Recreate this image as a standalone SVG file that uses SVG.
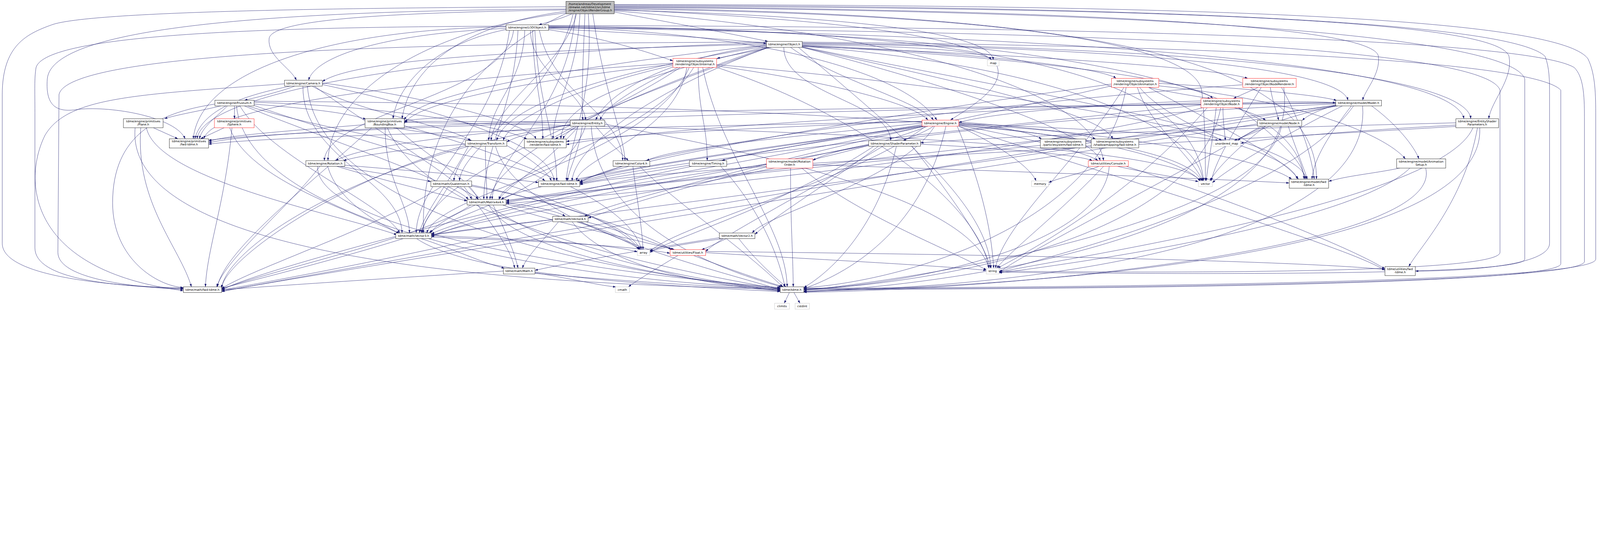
<svg xmlns="http://www.w3.org/2000/svg" width="7104" height="1379" viewBox="0 0 7104 1379">
<style>
svg{max-width:100vw;height:auto}
.e{fill:none;stroke:#191970;stroke-width:1.3;marker-end:url(#a)}
.n rect{fill:#fff;stroke:#000;stroke-width:1.3}
.r rect{stroke:#ff0000}
.s rect{stroke:#bfbfbf}
.root rect{fill:#bfbfbf}
text{font-family:"DejaVu Sans","Liberation Sans",sans-serif;font-size:13px;fill:#000;text-anchor:middle}
.root text{text-anchor:start}
</style>
<defs>
<marker id="a" markerUnits="userSpaceOnUse" markerWidth="13" markerHeight="10" refX="13" refY="5" orient="auto" viewBox="0 0 13 10"><path d="M0,0.5 L13,5 L0,9.5 z" fill="#191970"/></marker>
</defs>
<rect width="7104" height="1379" fill="#fff"/>
<g id="edges">
<path class="e" d="M2540,61 C2500,80 2430,100 2392,110"/>
<path class="e" d="M2727,53 C2950,95 3250,150 3410,184"/>
<path class="e" d="M2513,44 C1800,55 1210,80 1195,170 C1185,250 1290,300 1316,356"/>
<path class="e" d="M2597,61 C2590,250 2580,450 2588,533"/>
<path class="e" d="M2560,61 C2500,300 2200,450 2180,624"/>
<path class="e" d="M2513,50 C2050,110 1820,300 1785,527"/>
<path class="e" d="M2575,61 C2560,350 2460,450 2455,617"/>
<path class="e" d="M2612,61 C2640,450 2520,650 2515,803"/>
<path class="e" d="M2632,61 C2680,400 2770,600 2775,713"/>
<path class="e" d="M2513,57 C1900,130 1470,400 1456,713"/>
<path class="e" d="M2545,61 C2450,450 2050,650 2040,803"/>
<path class="e" d="M2555,61 C2520,500 2190,700 2185,885"/>
<path class="e" d="M2513,60 C2000,300 1870,700 1880,1034"/>
<path class="e" d="M2727,30 C4500,40 6100,100 6120,250 C6130,330 6060,400 6050,445"/>
<path class="e" d="M2727,27 C5000,35 6650,80 6700,250 C6720,350 6620,450 6610,527"/>
<path class="e" d="M2727,36 C4800,60 5850,250 5845,795"/>
<path class="e" d="M2727,23 C5000,28 6700,90 6860,250 C6880,300 6880,360 6880,420 L6880,1080 C6880,1180 6500,1203 6284,1203"/>
<path class="e" d="M2727,20 C5000,22 6900,60 7050,260 C7080,320 7085,400 7085,500 L7085,1150 C7085,1250 5000,1275 3569,1279"/>
<path class="e" d="M2513,30 C1500,35 400,50 230,110 C120,150 10,200 10,420 L10,1080 C10,1230 500,1270 814,1278"/>
<path class="e" d="M2513,40 C1200,48 230,120 210,350 C200,480 260,500 350,485 C500,470 780,520 822,616"/>
<path class="e" d="M2727,45 C3800,70 4400,150 4410,266"/>
<path class="e" d="M2727,33 C5000,45 6700,150 6770,350 L6770,1150 C6770,1230 5000,1215 4436,1208"/>
<path class="e" d="M2727,40 C4500,60 5300,200 5335,400 C5350,500 5352,700 5352,803"/>
<path class="e" d="M2727,48 C4000,150 4850,400 4900,713"/>
<path class="e" d="M2727,42 C3600,80 4300,150 4420,280 C4480,380 4300,480 4220,533"/>
<path class="e" d="M2436,127 C2800,145 3200,170 3403,193"/>
<path class="e" d="M2436,132 C2700,170 2900,240 2988,270"/>
<path class="e" d="M2247,126 C1700,150 1400,250 1370,356"/>
<path class="e" d="M2355,135 C2360,330 2590,400 2600,533"/>
<path class="e" d="M2436,120 C3300,140 4000,300 4160,533"/>
<path class="e" d="M2330,135 C2320,380 2175,450 2170,624"/>
<path class="e" d="M2247,131 C1900,200 1760,400 1745,527"/>
<path class="e" d="M2365,135 C2370,380 2410,450 2410,617"/>
<path class="e" d="M2375,135 C2390,470 2470,600 2472,803"/>
<path class="e" d="M2395,135 C2450,420 2760,500 2765,713"/>
<path class="e" d="M2280,135 C2250,420 1450,500 1440,713"/>
<path class="e" d="M2300,135 C2280,500 2150,650 2148,885"/>
<path class="e" d="M2262,135 C2200,580 1850,800 1848,1034"/>
<path class="e" d="M2247,119 C1500,130 890,300 858,616"/>
<path class="e" d="M2247,116 C1200,120 200,150 160,300 C152,350 155,400 155,500 L155,1100 C155,1240 500,1270 814,1281"/>
<path class="e" d="M2436,113 C5000,118 6800,180 6990,300 C7030,340 7035,420 7035,520 L7035,1160 C7035,1255 5000,1280 3569,1282"/>
<path class="e" d="M2436,124 C5000,135 6600,220 6660,400 L6660,1120 C6660,1220 5000,1210 4436,1203"/>
<path class="e" d="M2436,116 C4500,130 5300,350 5344,803"/>
<path class="e" d="M2436,118 C4800,140 5760,400 5790,795"/>
<path class="e" d="M2436,122 C5000,160 6450,300 6500,527"/>
<path class="e" d="M3425,210 C3330,230 3250,245 3183,259"/>
<path class="e" d="M3562,198 C4000,205 4380,220 4400,266"/>
<path class="e" d="M3510,210 C3700,350 4080,450 4145,533"/>
<path class="e" d="M3403,196 C2500,220 1600,250 1431,362"/>
<path class="e" d="M3403,201 C3000,250 2700,400 2645,533"/>
<path class="e" d="M3403,205 C2800,300 2250,450 2205,624"/>
<path class="e" d="M3403,199 C2500,300 1850,420 1795,532"/>
<path class="e" d="M3562,201 C4300,230 4900,300 4955,348"/>
<path class="e" d="M3562,203 C4500,250 5300,350 5385,437"/>
<path class="e" d="M3562,206 C4500,240 5400,300 5540,348"/>
<path class="e" d="M3562,194 C5000,210 5950,300 5985,445"/>
<path class="e" d="M3562,191 C5500,210 6520,350 6530,527"/>
<path class="e" d="M3403,208 C2800,350 2500,450 2490,617"/>
<path class="e" d="M3562,210 C4200,350 4900,500 4940,617"/>
<path class="e" d="M3410,210 C2900,400 2550,650 2540,803"/>
<path class="e" d="M3562,208 C4500,400 5770,600 5800,795"/>
<path class="e" d="M3403,190 C2000,230 900,400 875,616"/>
<path class="e" d="M3403,187 C2000,190 300,220 262,420 L257,1120 C257,1240 600,1275 814,1284"/>
<path class="e" d="M3405,210 C2700,450 2200,700 2175,885"/>
<path class="e" d="M3415,210 C2600,500 1900,800 1875,1034"/>
<path class="e" d="M3562,210 C4300,400 4850,600 4885,713"/>
<path class="e" d="M3545,210 C4000,600 4380,900 4400,1190"/>
<path class="e" d="M3562,205 C4800,300 5330,600 5340,803"/>
<path class="e" d="M3562,187 C5200,200 6800,260 6930,400 L6930,1170 C6930,1260 5000,1283 3569,1285"/>
<path class="e" d="M3480,210 C3480,420 3950,450 3955,624"/>
<path class="e" d="M3010,299 C2800,400 2680,480 2665,533"/>
<path class="e" d="M2988,290 C2500,400 2250,550 2235,624"/>
<path class="e" d="M2988,285 C2400,350 1850,450 1795,548"/>
<path class="e" d="M3020,299 C2800,450 2520,550 2500,617"/>
<path class="e" d="M3050,299 C3000,600 2570,700 2560,803"/>
<path class="e" d="M3182,287 C4500,400 5700,600 5760,795"/>
<path class="e" d="M2988,280 C2000,350 950,450 905,616"/>
<path class="e" d="M3100,299 C3100,500 3140,550 3140,713"/>
<path class="e" d="M3060,299 C2900,700 1950,850 1895,1034"/>
<path class="e" d="M3080,299 C2900,600 2250,750 2215,885"/>
<path class="e" d="M3182,299 C3800,500 4350,900 4390,1190"/>
<path class="e" d="M3120,299 C3200,700 3490,1000 3495,1273"/>
<path class="e" d="M3182,293 C3600,350 4050,450 4120,533"/>
<path class="e" d="M1309,382 C1250,405 1150,430 1085,445"/>
<path class="e" d="M1385,382 C1600,500 2000,560 2090,624"/>
<path class="e" d="M1395,382 C1700,600 2050,800 2095,885"/>
<path class="e" d="M1345,382 C1340,700 1780,800 1785,1034"/>
<path class="e" d="M1263,372 C600,420 300,430 200,600 C100,800 120,1200 814,1290"/>
<path class="e" d="M1290,382 C1100,420 900,480 865,616"/>
<path class="e" d="M1431,375 C2000,500 2450,650 2460,803"/>
<path class="e" d="M1431,368 C1900,430 2350,550 2380,617"/>
<path class="e" d="M1365,382 C1400,900 2500,1200 3464,1280"/>
<path class="e" d="M980,470 C900,490 780,510 730,527"/>
<path class="e" d="M1041,470 L1041,527"/>
<path class="e" d="M1128,462 C1350,480 1550,500 1625,530"/>
<path class="e" d="M1010,470 C960,520 900,560 885,616"/>
<path class="e" d="M1128,454 C1700,470 2200,550 2340,617"/>
<path class="e" d="M1085,470 C1400,600 2000,800 2080,885"/>
<path class="e" d="M1065,470 C1200,700 1700,900 1775,1034"/>
<path class="e" d="M1128,468 C1800,700 2700,900 2838,1108"/>
<path class="e" d="M1128,449 C2500,460 5200,500 5335,803"/>
<path class="e" d="M1050,470 C1100,1000 2500,1250 3464,1278"/>
<path class="e" d="M954,462 C700,500 500,600 500,900 C500,1150 700,1270 814,1276"/>
<path class="e" d="M1100,470 C1500,600 2300,700 2420,803"/>
<path class="e" d="M681,567 L790,616"/>
<path class="e" d="M650,567 C700,800 1500,950 1762,1042"/>
<path class="e" d="M625,567 C600,900 800,1100 850,1273"/>
<path class="e" d="M600,567 C560,1000 1500,1250 3464,1282"/>
<path class="e" d="M995,567 L890,616"/>
<path class="e" d="M1020,567 C1100,800 1600,950 1772,1036"/>
<path class="e" d="M1030,567 C1000,900 920,1100 912,1273"/>
<path class="e" d="M1621,553 C1300,580 1000,600 926,628"/>
<path class="e" d="M1745,567 C1900,590 2030,610 2095,624"/>
<path class="e" d="M1710,567 C1710,800 1815,900 1818,1034"/>
<path class="e" d="M1760,567 C1900,700 2100,800 2120,885"/>
<path class="e" d="M1650,567 C1400,800 1000,1100 965,1273"/>
<path class="e" d="M1795,558 C2300,700 2800,900 2848,1108"/>
<path class="e" d="M1720,567 C1900,1000 3000,1200 3464,1284"/>
<path class="e" d="M1795,543 C3000,560 5200,620 5330,803"/>
<path class="e" d="M2532,552 C2400,580 2300,600 2250,630"/>
<path class="e" d="M2568,560 L2465,617"/>
<path class="e" d="M2585,560 C2570,680 2525,750 2520,803"/>
<path class="e" d="M2645,560 C2700,630 2760,680 2790,713"/>
<path class="e" d="M2532,545 C2200,540 1900,537 1795,540"/>
<path class="e" d="M2532,556 C2000,600 1600,650 1490,713"/>
<path class="e" d="M2570,560 C2400,750 2250,830 2215,885"/>
<path class="e" d="M2600,560 C2500,850 2000,950 1905,1034"/>
<path class="e" d="M2532,540 C1800,570 1200,590 926,622"/>
<path class="e" d="M2532,553 C1600,700 1000,1100 984,1280"/>
<path class="e" d="M2685,551 C3500,700 4300,900 4392,1190"/>
<path class="e" d="M2625,560 C2650,1000 3200,1200 3470,1273"/>
<path class="e" d="M4145,560 C4100,590 4040,610 4010,624"/>
<path class="e" d="M4257,546 C4450,560 4580,590 4625,617"/>
<path class="e" d="M4257,551 C4600,570 4800,590 4865,617"/>
<path class="e" d="M4094,546 C3600,600 3000,650 2870,713"/>
<path class="e" d="M4100,560 C3700,620 3300,680 3205,713"/>
<path class="e" d="M4257,556 C4600,620 4830,680 4875,713"/>
<path class="e" d="M4094,553 C3500,650 2700,750 2574,810"/>
<path class="e" d="M4257,541 C5000,600 5600,700 5735,795"/>
<path class="e" d="M4094,540 C3000,560 1200,600 926,640"/>
<path class="e" d="M4094,538 C3500,560 2700,600 2514,628"/>
<path class="e" d="M4094,557 C3000,700 1100,1200 984,1289"/>
<path class="e" d="M4098,560 C3000,700 2300,830 2225,885"/>
<path class="e" d="M4150,560 C4000,800 3400,950 3340,1034"/>
<path class="e" d="M4120,560 C3500,800 2100,950 1915,1048"/>
<path class="e" d="M4105,560 C3500,700 2700,900 2595,960"/>
<path class="e" d="M4110,560 C3800,800 3000,1000 2885,1117"/>
<path class="e" d="M4257,560 C4450,650 4580,750 4600,803"/>
<path class="e" d="M4250,560 C4350,800 4400,1000 4412,1190"/>
<path class="e" d="M4257,553 C4800,600 5250,700 5330,805"/>
<path class="e" d="M4257,548 C4800,570 5300,600 5410,624"/>
<path class="e" d="M4200,560 C4100,1000 3800,1200 3569,1281"/>
<path class="e" d="M4257,560 C5000,800 6000,1100 6149,1200"/>
<path class="e" d="M5720,560 C5750,650 5790,750 5805,795"/>
<path class="e" d="M5583,556 C4000,700 2500,850 2247,899"/>
<path class="e" d="M5600,560 C5000,900 4500,1150 4436,1210"/>
<path class="e" d="M5620,560 C5500,650 5400,750 5372,803"/>
<path class="e" d="M5637,560 L5479,624"/>
<path class="e" d="M5690,560 C5600,1000 4000,1250 3569,1288"/>
<path class="e" d="M5583,550 C4000,800 1500,1200 984,1292"/>
<path class="e" d="M5931,466 C5850,490 5800,515 5782,535"/>
<path class="e" d="M6090,470 C6200,550 6280,650 6300,705"/>
<path class="e" d="M6000,470 C5900,600 5835,700 5825,795"/>
<path class="e" d="M5931,469 C5700,520 5550,580 5495,624"/>
<path class="e" d="M5931,461 C5000,500 3800,600 3609,712"/>
<path class="e" d="M5931,455 C4000,480 2000,500 1795,536"/>
<path class="e" d="M5931,470 C4000,700 2500,850 2247,894"/>
<path class="e" d="M5940,470 C4000,800 2200,1000 1915,1044"/>
<path class="e" d="M5931,458 C4000,470 1200,560 926,634"/>
<path class="e" d="M6010,470 C5700,900 4600,1150 4436,1205"/>
<path class="e" d="M5960,470 C5700,600 5450,750 5383,811"/>
<path class="e" d="M6050,470 C6100,1100 4500,1280 3569,1291"/>
<path class="e" d="M5931,466 C4000,750 1200,1250 984,1294"/>
<path class="e" d="M5480,478 C5560,500 5600,520 5620,534"/>
<path class="e" d="M5517,456 C5700,450 5850,450 5931,456"/>
<path class="e" d="M5430,478 C5430,550 5440,600 5440,624"/>
<path class="e" d="M5400,478 C5380,650 5360,750 5356,803"/>
<path class="e" d="M5500,478 C5650,600 5780,700 5795,795"/>
<path class="e" d="M5332,466 C4000,600 2700,750 2574,816"/>
<path class="e" d="M5332,456 C4000,500 2800,580 2514,642"/>
<path class="e" d="M5332,448 C4900,460 4400,500 4257,544"/>
<path class="e" d="M5340,478 C4500,700 2700,870 2247,903"/>
<path class="e" d="M5360,478 C5000,900 4500,1150 4430,1190"/>
<path class="e" d="M5420,478 C5300,1100 4000,1270 3569,1284"/>
<path class="e" d="M5586,388 L5476,437"/>
<path class="e" d="M5640,388 C5650,450 5670,500 5677,534"/>
<path class="e" d="M5600,388 C5500,550 5400,700 5378,803"/>
<path class="e" d="M5518,376 C4500,450 2800,650 2574,812"/>
<path class="e" d="M5690,388 C5780,550 5825,700 5835,795"/>
<path class="e" d="M5700,388 C5800,1100 4000,1280 3569,1295"/>
<path class="e" d="M5145,370 C5500,390 5850,420 5935,446"/>
<path class="e" d="M5100,388 C5200,410 5320,430 5375,437"/>
<path class="e" d="M5060,388 C5150,500 5350,580 5425,624"/>
<path class="e" d="M5050,388 C5100,550 5300,700 5340,805"/>
<path class="e" d="M5100,388 C5400,550 5700,700 5765,795"/>
<path class="e" d="M5145,381 C5800,450 6150,600 6240,705"/>
<path class="e" d="M4935,381 C4000,600 2600,850 2247,889"/>
<path class="e" d="M4990,388 C4800,700 4450,1000 4420,1190"/>
<path class="e" d="M5000,388 C4900,1000 4000,1250 3569,1277"/>
<path class="e" d="M4935,373 C4000,500 2800,700 2574,806"/>
<path class="e" d="M6464,545 C5500,570 4500,600 4087,634"/>
<path class="e" d="M6464,555 C6000,580 5650,610 5508,636"/>
<path class="e" d="M6540,567 C6400,900 4700,1150 4436,1208"/>
<path class="e" d="M6570,567 C6600,1150 4500,1270 3569,1293"/>
<path class="e" d="M6560,567 C6500,900 6300,1100 6255,1183"/>
<path class="e" d="M6464,561 C5000,650 2800,750 2574,820"/>
<path class="e" d="M6215,746 C6100,770 5980,780 5899,805"/>
<path class="e" d="M6260,746 C6000,1000 4700,1180 4436,1211"/>
<path class="e" d="M6330,746 C6420,1100 4500,1285 3569,1297"/>
<path class="e" d="M4880,738 C4800,770 4700,790 4656,810"/>
<path class="e" d="M4961,738 C5100,770 5250,790 5321,806"/>
<path class="e" d="M4900,738 C4700,950 4500,1100 4425,1190"/>
<path class="e" d="M4925,738 C4900,1100 4000,1270 3569,1283"/>
<path class="e" d="M5000,738 C5500,900 6000,1100 6149,1193"/>
<path class="e" d="M3560,746 C3800,950 4200,1100 4380,1198"/>
<path class="e" d="M3510,746 C3510,1000 3520,1100 3522,1273"/>
<path class="e" d="M3403,731 C2800,800 2100,950 1915,1038"/>
<path class="e" d="M3609,731 C4500,760 5300,790 5724,812"/>
<path class="e" d="M3061,733 C2900,760 2700,790 2574,814"/>
<path class="e" d="M3200,738 C3350,900 3450,1100 3485,1273"/>
<path class="e" d="M2760,738 C2680,770 2600,790 2560,803"/>
<path class="e" d="M2810,738 C2830,900 2850,1000 2855,1108"/>
<path class="e" d="M2840,738 C3000,900 3300,1100 3475,1273"/>
<path class="e" d="M3900,649 C3700,800 3450,950 3352,1040"/>
<path class="e" d="M3857,646 C3000,800 2100,950 1915,1053"/>
<path class="e" d="M3857,641 C3300,750 2800,900 2611,968"/>
<path class="e" d="M3920,649 C3500,900 3200,1050 3133,1116"/>
<path class="e" d="M4050,649 C4250,900 4380,1100 4398,1190"/>
<path class="e" d="M3880,649 C3500,900 3000,1050 2885,1121"/>
<path class="e" d="M3980,649 C3900,1000 3700,1200 3569,1276"/>
<path class="e" d="M4087,640 C4500,660 4800,690 4850,713"/>
<path class="e" d="M1508,738 C1700,775 1850,790 1913,806"/>
<path class="e" d="M1495,738 C1700,800 1950,860 2074,892"/>
<path class="e" d="M1455,738 C1500,900 1700,1000 1775,1036"/>
<path class="e" d="M1531,733 C1900,765 2250,790 2391,810"/>
<path class="e" d="M1420,738 C1300,900 1000,1150 962,1273"/>
<path class="e" d="M1410,738 C1400,1000 2500,1200 3464,1276"/>
<path class="e" d="M2066,640 C1800,660 1600,690 1525,713"/>
<path class="e" d="M2100,649 C2050,700 2020,760 2015,803"/>
<path class="e" d="M2155,649 C2155,750 2162,820 2162,885"/>
<path class="e" d="M2080,649 C2000,800 1880,950 1862,1034"/>
<path class="e" d="M2250,646 C2350,700 2430,760 2448,803"/>
<path class="e" d="M2066,646 C1500,800 1000,1150 984,1277"/>
<path class="e" d="M2200,649 C2300,1000 3200,1200 3464,1286"/>
<path class="e" d="M2028,828 C2070,850 2110,870 2125,885"/>
<path class="e" d="M1990,828 C1950,900 1880,980 1870,1034"/>
<path class="e" d="M2060,828 C2150,950 2270,1100 2285,1190"/>
<path class="e" d="M2094,821 C2500,900 2900,1050 2980,1108"/>
<path class="e" d="M1960,828 C1700,1000 1100,1200 984,1281"/>
<path class="e" d="M2094,826 C2500,900 2800,1000 2842,1108"/>
<path class="e" d="M2080,828 C2300,1100 3100,1250 3464,1288"/>
<path class="e" d="M2110,910 C2000,960 1930,1000 1912,1034"/>
<path class="e" d="M2247,900 C2400,920 2480,940 2510,960"/>
<path class="e" d="M2190,910 C2230,1000 2280,1100 2300,1190"/>
<path class="e" d="M2090,910 C1900,1050 1200,1200 984,1283"/>
<path class="e" d="M2247,906 C2500,950 2800,1050 2836,1108"/>
<path class="e" d="M2232,910 C2500,1000 2900,1080 2990,1108"/>
<path class="e" d="M2170,910 C2300,1150 3200,1260 3464,1290"/>
<path class="e" d="M2454,975 C2200,1000 2000,1030 1915,1041"/>
<path class="e" d="M2480,984 C2400,1080 2330,1150 2320,1190"/>
<path class="e" d="M2560,984 C2700,1030 2800,1080 2845,1108"/>
<path class="e" d="M2600,984 C2750,1020 2900,1080 2995,1108"/>
<path class="e" d="M2454,980 C2000,1100 1200,1250 984,1287"/>
<path class="e" d="M2540,984 C2700,1200 3200,1270 3464,1292"/>
<path class="e" d="M1870,1059 C2000,1100 2150,1170 2240,1190"/>
<path class="e" d="M1790,1059 C1500,1150 1100,1250 984,1279"/>
<path class="e" d="M1915,1046 C2300,1060 2700,1080 2830,1118"/>
<path class="e" d="M1915,1052 C2400,1070 2800,1090 2975,1124"/>
<path class="e" d="M1850,1059 C2100,1230 3000,1270 3464,1294"/>
<path class="e" d="M3194,1055 C2900,1100 2500,1170 2375,1200"/>
<path class="e" d="M3210,1059 C3050,1080 2950,1100 2885,1112"/>
<path class="e" d="M3225,1059 C3180,1080 3140,1100 3115,1108"/>
<path class="e" d="M3280,1059 C3350,1150 3440,1230 3490,1273"/>
<path class="e" d="M2375,1210 C2550,1240 2680,1270 2735,1273"/>
<path class="e" d="M2235,1203 C1800,1230 1200,1270 984,1286"/>
<path class="e" d="M2375,1213 C2800,1250 3200,1275 3464,1284"/>
<path class="e" d="M3010,1134 C2900,1200 2820,1250 2790,1273"/>
<path class="e" d="M3133,1121 C3600,1150 4200,1180 4379,1200"/>
<path class="e" d="M3080,1134 C3250,1200 3400,1250 3480,1273"/>
<path class="e" d="M3133,1116 C4500,1130 5800,1160 6149,1196"/>
<path class="e" d="M3505,1298 L3482,1346"/>
<path class="e" d="M3525,1298 L3552,1346"/>
</g>
<g id="node-root" class="n root"><rect x="2513" y="6" width="214" height="55"/><text x="2524" y="22">/home/andreas/Development</text><text x="2524" y="36">/drewke.net/tdme2/src/tdme</text><text x="2524" y="50">/engine/ObjectRenderGroup.h</text></g>
<g id="node-lodobject" class="n"><rect x="2247" y="110" width="189" height="25"/><text x="2341" y="127">tdme/engine/LODObject.h</text></g>
<g id="node-object" class="n"><rect x="3403" y="184" width="159" height="26"/><text x="3482" y="202">tdme/engine/Object.h</text></g>
<g id="node-objectinternal" class="n r"><rect x="2988" y="259" width="194" height="40"/><text x="3085" y="275">tdme/engine/subsystems</text><text x="3085" y="289">/rendering/ObjectInternal.h</text></g>
<g id="node-map" class="n s"><rect x="4384" y="266" width="52" height="26"/><text x="4410" y="284">map</text></g>
<g id="node-camera" class="n"><rect x="1263" y="356" width="168" height="26"/><text x="1347" y="374">tdme/engine/Camera.h</text></g>
<g id="node-objectanimation" class="n r"><rect x="4935" y="348" width="210" height="40"/><text x="5040" y="364">tdme/engine/subsystems</text><text x="5040" y="378">/rendering/ObjectAnimation.h</text></g>
<g id="node-objectnoderenderer" class="n r"><rect x="5518" y="348" width="237" height="40"/><text x="5636" y="364">tdme/engine/subsystems</text><text x="5636" y="378">/rendering/ObjectNodeRenderer.h</text></g>
<g id="node-frustum" class="n"><rect x="954" y="445" width="174" height="25"/><text x="1041" y="462">tdme/engine/Frustum.h</text></g>
<g id="node-objectnode" class="n r"><rect x="5332" y="437" width="185" height="41"/><text x="5424" y="453">tdme/engine/subsystems</text><text x="5424" y="467">/rendering/ObjectNode.h</text></g>
<g id="node-model" class="n"><rect x="5931" y="445" width="203" height="25"/><text x="6032" y="462">tdme/engine/model/Model.h</text></g>
<g id="node-plane" class="n"><rect x="548" y="527" width="176" height="40"/><text x="636" y="543">tdme/engine/primitives</text><text x="636" y="557">/Plane.h</text></g>
<g id="node-sphere" class="n r"><rect x="952" y="527" width="176" height="40"/><text x="1040" y="543">tdme/engine/primitives</text><text x="1040" y="557">/Sphere.h</text></g>
<g id="node-boundingbox" class="n"><rect x="1621" y="527" width="174" height="40"/><text x="1708" y="543">tdme/engine/primitives</text><text x="1708" y="557">/BoundingBox.h</text></g>
<g id="node-entity" class="n"><rect x="2532" y="533" width="153" height="27"/><text x="2608" y="551">tdme/engine/Entity.h</text></g>
<g id="node-engine" class="n r"><rect x="4094" y="533" width="163" height="27"/><text x="4175" y="551">tdme/engine/Engine.h</text></g>
<g id="node-node" class="n"><rect x="5583" y="534" width="197" height="26"/><text x="5681" y="552">tdme/engine/model/Node.h</text></g>
<g id="node-entityshaderparameters" class="n"><rect x="6464" y="527" width="190" height="40"/><text x="6559" y="543">tdme/engine/EntityShader</text><text x="6559" y="557">Parameters.h</text></g>
<g id="node-primitives-fwd" class="n"><rect x="752" y="616" width="174" height="41"/><text x="839" y="632">tdme/engine/primitives</text><text x="839" y="646">/fwd-tdme.h</text></g>
<g id="node-transform" class="n"><rect x="2066" y="624" width="184" height="25"/><text x="2158" y="641">tdme/engine/Transform.h</text></g>
<g id="node-renderer-fwd" class="n"><rect x="2328" y="617" width="186" height="39"/><text x="2421" y="633">tdme/engine/subsystems</text><text x="2421" y="647">/renderer/fwd-tdme.h</text></g>
<g id="node-shaderparameter" class="n"><rect x="3857" y="624" width="230" height="25"/><text x="3972" y="641">tdme/engine/ShaderParameter.h</text></g>
<g id="node-particlesystem-fwd" class="n"><rect x="4619" y="617" width="202" height="39"/><text x="4720" y="633">tdme/engine/subsystems</text><text x="4720" y="647">/particlesystem/fwd-tdme.h</text></g>
<g id="node-shadowmapping-fwd" class="n"><rect x="4845" y="617" width="211" height="39"/><text x="4950" y="633">tdme/engine/subsystems</text><text x="4950" y="647">/shadowmapping/fwd-tdme.h</text></g>
<g id="node-unordered_map" class="n s"><rect x="5385" y="624" width="123" height="25"/><text x="5446" y="641">unordered_map</text></g>
<g id="node-rotation" class="n"><rect x="1358" y="713" width="173" height="25"/><text x="1444" y="730">tdme/engine/Rotation.h</text></g>
<g id="node-color4" class="n"><rect x="2722" y="713" width="163" height="25"/><text x="2803" y="730">tdme/engine/Color4.h</text></g>
<g id="node-timing" class="n"><rect x="3061" y="713" width="166" height="25"/><text x="3144" y="730">tdme/engine/Timing.h</text></g>
<g id="node-rotationorder" class="n r"><rect x="3403" y="705" width="206" height="41"/><text x="3506" y="721">tdme/engine/model/Rotation</text><text x="3506" y="735">Order.h</text></g>
<g id="node-console" class="n r"><rect x="4832" y="713" width="178" height="25"/><text x="4921" y="730">tdme/utilities/Console.h</text></g>
<g id="node-animationsetup" class="n"><rect x="6201" y="705" width="218" height="41"/><text x="6310" y="721">tdme/engine/model/Animation</text><text x="6310" y="735">Setup.h</text></g>
<g id="node-quaternion" class="n"><rect x="1913" y="803" width="181" height="25"/><text x="2003" y="820">tdme/math/Quaternion.h</text></g>
<g id="node-engine-fwd" class="n"><rect x="2391" y="803" width="183" height="25"/><text x="2482" y="820">tdme/engine/fwd-tdme.h</text></g>
<g id="node-memory" class="n s"><rect x="4580" y="803" width="76" height="25"/><text x="4618" y="820">memory</text></g>
<g id="node-vector" class="n s"><rect x="5321" y="803" width="62" height="25"/><text x="5352" y="820">vector</text></g>
<g id="node-model-fwd" class="n"><rect x="5724" y="795" width="175" height="40"/><text x="5811" y="811">tdme/engine/model/fwd</text><text x="5811" y="825">-tdme.h</text></g>
<g id="node-matrix4x4" class="n"><rect x="2074" y="885" width="173" height="25"/><text x="2160" y="902">tdme/math/Matrix4x4.h</text></g>
<g id="node-vector4" class="n"><rect x="2454" y="960" width="157" height="24"/><text x="2532" y="977">tdme/math/Vector4.h</text></g>
<g id="node-vector3" class="n"><rect x="1757" y="1034" width="158" height="25"/><text x="1836" y="1051">tdme/math/Vector3.h</text></g>
<g id="node-vector2" class="n"><rect x="3194" y="1034" width="158" height="25"/><text x="3273" y="1051">tdme/math/Vector2.h</text></g>
<g id="node-array" class="n s"><rect x="2830" y="1108" width="55" height="26"/><text x="2857" y="1126">array</text></g>
<g id="node-float" class="n r"><rect x="2975" y="1108" width="158" height="26"/><text x="3054" y="1126">tdme/utilities/Float.h</text></g>
<g id="node-utilities-fwd" class="n"><rect x="6149" y="1183" width="135" height="40"/><text x="6216" y="1199">tdme/utilities/fwd</text><text x="6216" y="1213">-tdme.h</text></g>
<g id="node-math" class="n"><rect x="2235" y="1190" width="140" height="26"/><text x="2305" y="1208">tdme/math/Math.h</text></g>
<g id="node-string" class="n s"><rect x="4379" y="1190" width="57" height="26"/><text x="4407" y="1208">string</text></g>
<g id="node-math-fwd" class="n"><rect x="814" y="1273" width="170" height="25"/><text x="899" y="1290">tdme/math/fwd-tdme.h</text></g>
<g id="node-cmath" class="n s"><rect x="2732" y="1273" width="63" height="25"/><text x="2763" y="1290">cmath</text></g>
<g id="node-tdme" class="n"><rect x="3464" y="1273" width="105" height="25"/><text x="3516" y="1290">tdme/tdme.h</text></g>
<g id="node-climits" class="n s"><rect x="3439" y="1346" width="66" height="26"/><text x="3472" y="1364">climits</text></g>
<g id="node-cstdint" class="n s"><rect x="3530" y="1346" width="64" height="26"/><text x="3562" y="1364">cstdint</text></g>
</svg>
